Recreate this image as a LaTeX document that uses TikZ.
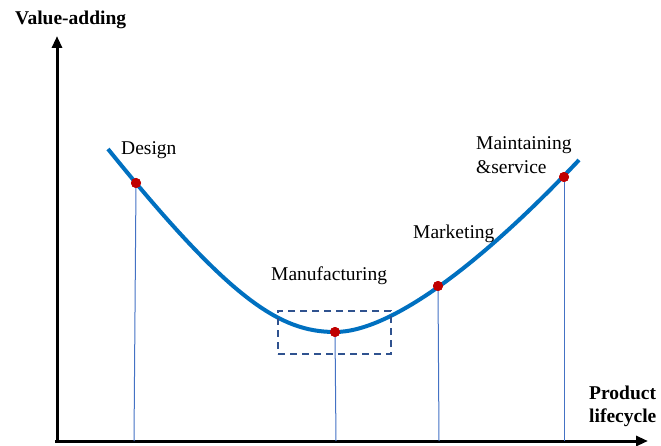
\documentclass[tikz,border=0pt]{standalone}
\usepackage{fontspec}
\setmainfont{Liberation Serif}
\usetikzlibrary{arrows.meta}
\definecolor{curveblue}{RGB}{0,112,192}
\definecolor{lineblue}{RGB}{68,114,196}
\definecolor{dotred}{RGB}{192,0,0}
\definecolor{boxblue}{RGB}{47,82,143}
\tikzset{
  axis/.style={line width=3pt,-{Triangle[length=12pt,width=10pt]}},
  curve/.style={line width=4pt,curveblue},
  drop/.style={line width=1pt,lineblue},
  dot/.style={circle,fill=dotred,inner sep=0pt,minimum size=10pt},
  lbl/.style={font=\fontsize{19.5}{24}\selectfont,inner sep=0pt,align=left},
  blbl/.style={font=\fontsize{19.5}{23}\selectfont\bfseries,inner sep=0pt,align=left},
  zone/.style={draw=boxblue,line width=1.5pt,dash pattern=on 7pt off 5pt}
}
\begin{document}
\begin{tikzpicture}[x=1pt,y=-1pt]
\useasboundingbox (0,0) rectangle (661,446);
\coordinate (ytip) at (57,36);
\coordinate (xtip) at (648,441);
\draw[axis] (57,443) -- (ytip);
\draw[axis] (55,441) -- (xtip);
\node[blbl,anchor=west] (ylab) at (15,20) {Value-adding};
\node[blbl,anchor=west] (xlab) at (589,406) {Product\\lifecycle};
\draw[curve] (108,149) .. controls (230,300) and (280,332) .. (335,332)
  .. controls (390,332) and (480,265) .. (579,160);
\node[dot] (d1) at (136,183) {};
\node[dot] (d2) at (335,332) {};
\node[dot] (d3) at (438,286) {};
\node[dot] (d4) at (564,177) {};
\coordinate (b1) at (134,441);
\coordinate (b2) at (336,441);
\coordinate (b3) at (439,441);
\coordinate (b4) at (564,441);
\draw[drop] (d1.center) -- (b1);
\draw[drop] (d2.center) -- (b2);
\draw[drop] (d3.center) -- (b3);
\draw[drop] (d4.center) -- (b4);
\node[dot] at (136,183) {};
\node[dot] at (335,332) {};
\node[dot] at (438,286) {};
\node[dot] at (564,177) {};
\node[zone,minimum width=113pt,minimum height=43pt,inner sep=0pt] (zbox) at (334.5,332.5) {};
\node[lbl,anchor=west] (l1) at (121,150) {Design};
\node[lbl,anchor=west] (l2) at (271,276) {Manufacturing};
\node[lbl,anchor=west] (l3) at (413,234) {Marketing};
\node[lbl,anchor=west] (l4) at (476,155) {Maintaining\\\&service};
\end{tikzpicture}
\end{document}
